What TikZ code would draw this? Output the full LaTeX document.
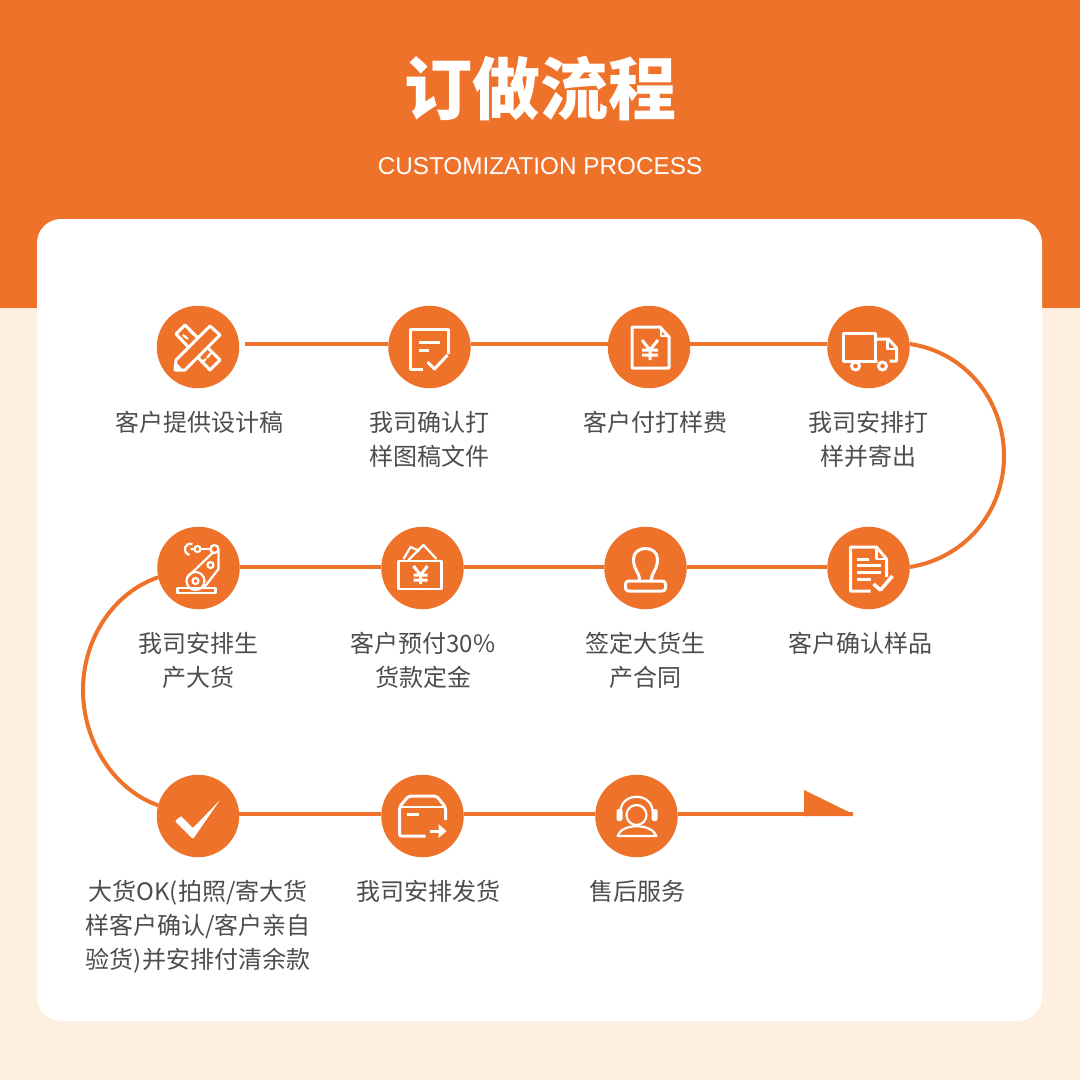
\documentclass[tikz,border=0pt]{standalone}
\usepackage{fontspec}
\usepackage{xcolor}
\setmainfont{Noto Sans CJK SC}
\newfontfamily\latinfont{Liberation Sans}
\definecolor{orangeA}{HTML}{EE7229}
\definecolor{creamA}{HTML}{FFEFE0}
\definecolor{greyA}{HTML}{4D4D4D}

\begin{document}
\begin{tikzpicture}[x=1pt,y=-1pt,
    stepdot/.style={circle,fill=orangeA,minimum size=82.5pt,inner sep=0pt},
    steptext/.style={anchor=north,align=center,text=greyA,font=\fontsize{24}{34}\selectfont,inner sep=0pt},
    link/.style={draw=orangeA,line width=4pt},
    icon/.style={draw=white,line width=3pt,line join=round},
    iconthin/.style={draw=white,line width=2.2pt,line join=round}]
    \useasboundingbox (0,0) rectangle (1080,1080);
    \fill[creamA] (0,0) rectangle (1080,1080);
    \fill[orangeA] (0,0) rectangle (1080,308);
    \fill[white,rounded corners=24pt] (37,219) rectangle (1042,1021);
    \node[text=white,font=\fontsize{68}{68}\selectfont\bfseries] (title) at (540,89) {订做流程};
    \node[text=white,font=\fontsize{24.3}{24}\selectfont\latinfont] (subtitle) at (540,166) {CUSTOMIZATION PROCESS};

    \node[stepdot] (a) at (198,347) {};
    \node[stepdot] (b) at (429.5,347) {};
    \node[stepdot] (c) at (649,347) {};
    \node[stepdot] (d) at (868.5,347) {};
    \node[stepdot] (e) at (868.5,568) {};
    \node[stepdot] (f) at (645.5,568) {};
    \node[stepdot] (g) at (422.5,568) {};
    \node[stepdot] (h) at (198.5,568) {};
    \node[stepdot] (i) at (198,816) {};
    \node[stepdot] (j) at (422.5,816) {};
    \node[stepdot] (k) at (636.5,816) {};
    \coordinate (start) at (245,344);
    \coordinate (tip) at (853,814);
    \coordinate (flag) at (804,790);

    \node[steptext] (ta) at (199,411) {客户提供设计稿};
    \node[steptext] (tb) at (429,411) {我司确认打\\样图稿文件};
    \node[steptext] (tc) at (655,411) {客户付打样费};
    \node[steptext] (td) at (868,411) {我司安排打\\样并寄出};
    \node[steptext] (te) at (860,632) {客户确认样品};
    \node[steptext] (tf) at (645,632) {签定大货生\\产合同};
    \node[steptext] (tg) at (423,632) {客户预付30\%\\货款定金};
    \node[steptext] (th) at (198,632) {我司安排生\\产大货};
    \node[steptext] (ti) at (198,880) {大货OK(拍照/寄大货\\样客户确认/客户亲自\\验货)并安排付清余款};
    \node[steptext] (tj) at (428,880) {我司安排发货};
    \node[steptext] (tk) at (637,880) {售后服务};

    \draw[link] (start) -- ([yshift=3pt]b.west);
    \draw[link] ([yshift=3pt]b.east) -- ([yshift=3pt]c.west);
    \draw[link] ([yshift=3pt]c.east) -- ([yshift=3pt]d.west);
    \draw[link] (d.east |- start) .. controls (965,352) and (1004,400) .. (1004,456) .. controls (1004,512) and (965,558) .. ([yshift=1pt]e.east);
    \draw[link] ([yshift=1pt]e.west) -- ([yshift=1pt]f.east);
    \draw[link] ([yshift=1pt]f.west) -- ([yshift=1pt]g.east);
    \draw[link] ([yshift=1pt]g.west) -- ([yshift=1pt]h.east);
    \draw[link] (h.193) .. controls (115,592) and (83,637) .. (83,690) .. controls (83,743) and (115,790) .. (i.165);
    \draw[link] ([yshift=2pt]i.east) -- ([yshift=2pt]j.west);
    \draw[link] ([yshift=2pt]j.east) -- ([yshift=2pt]k.west);
    \draw[link] ([yshift=2pt]k.east) -- (tip);
    \fill[orangeA] (flag) -- (tip) -- (853,816) -- (804,816) -- cycle;

    \begin{scope}[shift={(a.center)}]
        \draw[icon,fill=orangeA] (-22,-13) -- (-13,-22) -- (22,13) -- (12,23) -- cycle;
        \draw[iconthin] (-15,-12) -- (-10,-8) (-9,-17) -- (-4,-12) (9,11) -- (13,6) (3,16) -- (8,12);
        \draw[icon,fill=orangeA] (12,-21) -- (22,-12) -- (-13,23) -- (-23,23) -- (-22,13) -- cycle;
        \fill[white] (-23,23) -- (-22,15) -- (-15,23) -- cycle;
    \end{scope}

    \begin{scope}[shift={(b.center)}]
        \draw[icon] (-7,22) -- (-19,22) -- (-19,-18) -- (19,-18) -- (19,7);
        \draw[icon] (-11,-5) -- (10,-5) (-11,3) -- (-1,3);
        \draw[icon] (-2,15) -- (5,22) -- (18,8);
    \end{scope}

    \begin{scope}[shift={(c.center)}]
        \draw[icon] (-17,-20) -- (11,-20) -- (20,-10) -- (20,21) -- (-17,21) -- cycle;
        \draw[iconthin] (12,-19) -- (12,-11) -- (20,-11);
        \draw[icon] (-7,-7) -- (1,3) -- (9,-7) (1,3) -- (1,13) (-7,3) -- (9,3) (-7,8) -- (9,8);
    \end{scope}

    \begin{scope}[shift={(d.center)}]
        \draw[icon] (-25,-14) rectangle (7,14);
        \draw[icon] (8,-8) -- (20,-8) -- (28,1) -- (28,14) -- (21,14) (7,14) -- (9,14);
        \draw[iconthin] (19,-7) -- (19,2) -- (28,2);
        \draw[icon,fill=orangeA] (-13,19) circle[radius=4];
        \draw[icon,fill=orangeA] (14,19) circle[radius=4];
    \end{scope}

    \begin{scope}[shift={(e.center)}]
        \draw[icon] (2,23) -- (-18,23) -- (-18,-21) -- (8,-21) -- (18,-9) -- (18,9);
        \draw[iconthin] (8,-20) -- (8,-9) -- (18,-9);
        \draw[icon] (-12,-9) -- (0,-9) (-12,-3) -- (12,-3) (-12,4) -- (12,4) (-12,11) -- (2,11);
        \draw[icon,line width=3.5pt] (5,16) -- (12,22) -- (24,8);
    \end{scope}

    \begin{scope}[shift={(f.center)}]
        \draw[icon,rounded corners=3pt] (-20,13) rectangle (20,23);
        \draw[icon] (-6,12) .. controls (-6,4) and (-12,2) .. (-12,-9) .. controls (-12,-23) and (12,-23) .. (12,-9) .. controls (12,2) and (6,4) .. (6,12);
    \end{scope}

    \begin{scope}[shift={(g.center)}]
        \draw[iconthin] (-24,-7) rectangle (19,21);
        \draw[iconthin] (-19,-9) -- (-12,-21) -- (-3,-17) (-14,-8) -- (1,-23) -- (14,-9);
        \draw[icon] (-9,-2) -- (-2,7) -- (5,-2) (-2,7) -- (-2,16) (-9,7) -- (5,7) (-9,12) -- (5,12);
    \end{scope}

    \begin{scope}[shift={(h.center)}]
        \draw[iconthin] (-21,20) rectangle (17,25);
        \draw[iconthin] (-3,13) circle[radius=9];
        \draw[iconthin] (-3,13) circle[radius=3];
        \draw[iconthin] (12,-3) circle[radius=3];
        \draw[iconthin] (-11,9) -- (14,-15) (20,-18) -- (20,1) -- (6,19);
        \draw[iconthin] (16,-19) circle[radius=4];
        \draw[iconthin] (12,-19) -- (2,-19);
        \draw[iconthin] (-1,-19) circle[radius=3];
        \draw[iconthin] (-4,-19) -- (-8,-19) (-6,-24) .. controls (-14,-26) and (-17,-16) .. (-9,-13);
    \end{scope}

    \begin{scope}[shift={(i.center)}]
        \fill[white,rounded corners=1pt] (-23,5) -- (-17,0) -- (-5,12) -- (22,-16) -- (-5,23) -- cycle;
    \end{scope}

    \begin{scope}[shift={(j.center)}]
        \draw[icon,rounded corners=2pt] (3,20) -- (-23,20) -- (-23,-9) -- (-14,-20) -- (14,-20) -- (23,-9) -- (23,4);
        \draw[iconthin] (-23,-9) -- (23,-9);
        \draw[icon] (-16,-2) -- (-4,-2) (7,15) -- (16,15);
        \fill[white] (16,8) -- (24,15) -- (16,22) -- cycle;
    \end{scope}

    \begin{scope}[shift={(k.center)}]
        \draw[iconthin] (0,-1) circle[radius=10];
        \draw[iconthin] (-16,-5) .. controls (-15,-24) and (15,-24) .. (16,-5);
        \fill[white,rounded corners=2pt] (-20,-7) rectangle (-14,5);
        \fill[white,rounded corners=2pt] (15,-7) rectangle (21,5);
        \draw[iconthin] (-19,20) .. controls (-15,7) and (15,7) .. (20,20) -- cycle;
    \end{scope}
\end{tikzpicture}
\end{document}
